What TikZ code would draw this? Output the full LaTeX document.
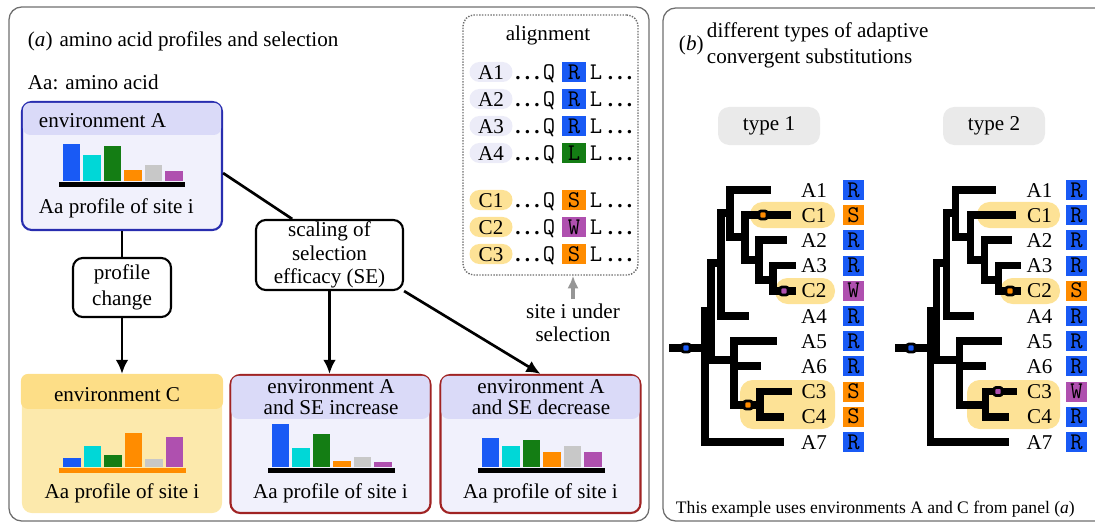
\documentclass[tikz,border=0pt]{standalone}
\usepackage{fontspec}
\setmainfont{Liberation Serif}
\usetikzlibrary{arrows.meta,calc}

\definecolor{barBlue}{RGB}{25,90,245}
\definecolor{barCyan}{RGB}{0,215,215}
\definecolor{barGreen}{RGB}{20,125,20}
\definecolor{barOrange}{RGB}{255,140,0}
\definecolor{barGray}{RGB}{200,200,200}
\definecolor{barPurple}{RGB}{175,80,175}
\definecolor{envAedge}{RGB}{40,45,175}
\definecolor{envAbody}{RGB}{241,241,252}
\definecolor{envAhead}{RGB}{218,218,248}
\definecolor{envCbody}{RGB}{252,233,172}
\definecolor{envChead}{RGB}{253,222,135}
\definecolor{hiYellow}{RGB}{253,226,150}
\definecolor{seEdge}{RGB}{160,35,35}
\definecolor{pillA}{RGB}{236,236,248}
\definecolor{pillGray}{RGB}{234,234,234}
\definecolor{frameGray}{RGB}{110,110,110}
\definecolor{arrowGray}{RGB}{150,150,150}
\colorlet{colR}{barBlue}
\colorlet{colS}{barOrange}
\colorlet{colW}{barPurple}
\colorlet{colL}{barGreen}

\newcommand{\alnDots}{\textbf{.\hspace{3pt}.\hspace{3pt}.}}
\newcommand{\monoAa}{\ttfamily\fontsize{17}{17}\selectfont}

% branches of the tree, same for both types
\newcommand{\cladeTree}{%
  \draw[br] (767,190) -| (730,237) -- (745,237);
  \draw[br] (787,215) -| (745,260) -- (759,260);
  \draw[br] (783,240) -| (759,280) -- (773,280);
  \draw[br] (792,265.5) -| (773,291) -- (792,291);
  \draw[br] (730,213) -| (721,316) -- (745,316);
  \draw[br] (721,263) -| (711,360) -- (734,360);
  \draw[br] (773,341) -| (734,405) -- (760,405);
  \draw[br] (734,366) -- (757,366);
  \draw[br] (788,391.5) -| (760,417) -- (780,417);
  \draw[br] (711,311) -| (705,442) -- (780,442);
  \draw[br] (673,348) -- (705,348);
}

\begin{document}
\begin{tikzpicture}[x=0.025cm,y=-0.025cm,font=\fontsize{15}{16.5}\selectfont]
    \tikzset{
      panel/.style={draw=frameGray,line width=0.9pt,rounded corners=9},
      envbox/.style={rounded corners=7,line width=1.5pt,minimum width=5cm,inner sep=0pt},
      stepbox/.style={draw,rounded corners=7,line width=1.5pt,align=center,inner sep=0pt},
      conn/.style={line width=1.9pt},
      tip/.style={-{Latex[length=10pt,width=9pt]}},
      row/.style={inner sep=0pt,text height=10pt,text depth=0pt},
      apill/.style={row,rounded corners=7,minimum width=1.075cm,minimum height=0.5cm},
      resbox/.style={row,minimum width=0.6cm,minimum height=0.5cm,font=\monoAa},
      typepill/.style={fill=pillGray,rounded corners=8,minimum width=2.55cm,minimum height=0.95cm},
      br/.style={line width=5pt,line cap=rect,line join=miter},
      mut/.style={draw=black,line width=2pt,rounded corners=1.5pt,minimum size=0.2cm,inner sep=0pt}
    }
    \useasboundingbox (0,0) rectangle (1095,524);
    \clip (0,0) rectangle (1095,524);

    % panels
    \draw[panel] (9,7) rectangle (649,521);
    \draw[panel] (663,8) rectangle (1120,521);

    % (a)
    \node[anchor=west] (ttlA) at (23,41) {(\textit{a})\hspace{5pt}amino acid profiles and selection};
    \node[anchor=west] (aaNote) at (23,82) {Aa: amino acid};

    \node[envbox,draw=envAedge,fill=envAbody,minimum height=3.2cm] (envA) at (122,166) {};
    \fill[envAhead,rounded corners=5] ($(envA.north west)+(2,2)$) rectangle ($(envA.north east)+(-2,34)$);
    \node[anchor=west] (envAhd) at (34,121) {environment A};
    \fill[black] (59,182) rectangle (185,187);
    \foreach \cl/\hh [count=\k from 0] in {barBlue/37,barCyan/26,barGreen/35,barOrange/11,barGray/16,barPurple/10}
      \fill[\cl] ({62.5+20.5*\k},181) rectangle ++(17.5,-\hh);
    \node[anchor=west] (envAtx) at (34,208) {Aa profile of site i};

    \node[stepbox,minimum width=2.45cm,minimum height=1.475cm] (chg) at (122,287.5) {profile\\[2pt]change};
    \node[stepbox,minimum width=3.675cm,minimum height=1.75cm] (scl) at (329.5,255) {scaling of\\selection\\efficacy (SE)};

    \node[envbox,fill=envCbody,minimum height=3.45cm] (envC) at (122,444) {};
    \fill[envChead,rounded corners=5] ($(envC.north west)+(0,0)$) rectangle ($(envC.north east)+(0,35)$);
    \node (envChd) at (117,395) {environment C};
    \fill[barOrange] (59,468) rectangle (186,473);
    \foreach \cl/\hh [count=\k from 0] in {barBlue/9,barCyan/21,barGreen/12,barOrange/34,barGray/8,barPurple/30}
      \fill[\cl] ({63+20.5*\k},467) rectangle ++(17.5,-\hh);
    \node (envCtx) at (122,493) {Aa profile of site i};

    \node[envbox,draw=seEdge,fill=envAbody,minimum height=3.45cm] (envAup) at (330.5,444) {};
    \fill[envAhead,rounded corners=5] ($(envAup.north west)+(2,2)$) rectangle ($(envAup.north east)+(-2,45)$);
    \node[align=center,font=\fontsize{15}{14.5}\selectfont] (envAuphd) at (331,397) {environment A\\and SE increase};
    \fill[black] (268,468) rectangle (395,473);
    \foreach \cl/\hh [count=\k from 0] in {barBlue/43,barCyan/19,barGreen/33,barOrange/6,barGray/10,barPurple/5}
      \fill[\cl] ({271.5+20.5*\k},467) rectangle ++(17.5,-\hh);
    \node (envAuptx) at (330.5,493) {Aa profile of site i};

    \node[envbox,draw=seEdge,fill=envAbody,minimum height=3.45cm] (envAdown) at (540.5,444) {};
    \fill[envAhead,rounded corners=5] ($(envAdown.north west)+(2,2)$) rectangle ($(envAdown.north east)+(-2,45)$);
    \node[align=center,font=\fontsize{15}{14.5}\selectfont] (envAdownhd) at (541,397) {environment A\\and SE decrease};
    \fill[black] (478,468) rectangle (605,473);
    \foreach \cl/\hh [count=\k from 0] in {barBlue/29,barCyan/21,barGreen/27,barOrange/15,barGray/21,barPurple/15}
      \fill[\cl] ({481.5+20.5*\k},467) rectangle ++(17.5,-\hh);
    \node (envAdowntx) at (540.5,493) {Aa profile of site i};

    \draw[conn] (envA) -- (chg);
    \draw[conn,tip] (chg) -- (envC);
    \draw[conn] (envA.-4) -- (scl.136);
    \draw[conn,tip] (scl.south) -- (scl.south |- envAup.north);
    \draw[conn,tip] (scl.south east) -- (envAdown.north);

    % alignment
    \node[draw=frameGray,densely dotted,line width=1pt,rounded corners=8,minimum width=4.375cm,minimum height=6.5cm] (aln) at (550.5,145) {};
    \node (alnTitle) at (548,35) {alignment};
    \foreach \nm/\aa/\yy/\pl in {A1/R/72/pillA,A2/R/99/pillA,A3/R/126/pillA,A4/L/153/pillA,C1/S/200/hiYellow,C2/W/227/hiYellow,C3/S/254/hiYellow}{
      \node[apill,fill=\pl] (al\nm) at (491,\yy) {\nm};
      \node[row] (dl\nm) at (527.5,\yy) {\alnDots};
      \node[row,font=\monoAa] (ql\nm) at (549,\yy) {Q};
      \node[resbox,fill=col\aa] (rl\nm) at (574,\yy) {\aa};
      \node[row,font=\monoAa] (ll\nm) at (596,\yy) {L};
      \node[row] (el\nm) at (620,\yy) {\alnDots};
    }
    \node[align=center] (site) at (573,323) {site i under\\selection};
    \draw[line width=2.2pt,draw=arrowGray,-{Latex[length=9pt,width=8pt]}] (site.north) -- (site.north |- aln.south);

    % (b)
    \node[anchor=west] (ttlBtag) at (674,45) {(\textit{b})};
    \node[anchor=west,align=left,font=\fontsize{15}{18.5}\selectfont] (ttlB) at (702,45) {different types of adaptive\\convergent substitutions};
    \node[typepill] (ty1) at (769,126) {type 1};
    \node[typepill] (ty2) at (994,126) {type 2};

    % type 1
    \fill[hiYellow,rounded corners=9] (750,202) rectangle (835,228);
    \fill[hiYellow,rounded corners=9] (775,278) rectangle (835,304);
    \fill[hiYellow,rounded corners=9] (740,380) rectangle (835,429);
    \cladeTree
    \node[mut,fill=colR] (m1root) at (686,348) {};
    \node[mut,fill=colS] (m1C1) at (763,215) {};
    \node[mut,fill=colW] (m1C2) at (784,291) {};
    \node[mut,fill=colS] (m1C34) at (748,405) {};
    \foreach \nm/\aa [count=\i from 0] in {A1/R,C1/S,A2/R,A3/R,C2/W,A4/R,A5/R,A6/R,C3/S,C4/S,A7/R}{
      \node[row] (ta\nm) at (814,{190+25.2*\i}) {\nm};
      \node[resbox,fill=col\aa,minimum width=0.525cm] (tr\nm) at (853.5,{190+25.2*\i}) {\aa};
    }

    % type 2
    \fill[hiYellow,rounded corners=9] (977,202) rectangle (1060,228);
    \fill[hiYellow,rounded corners=9] (1000,278) rectangle (1060,304);
    \fill[hiYellow,rounded corners=9] (967,380) rectangle (1060,429);
    \begin{scope}[shift={(225,0)}]
      \cladeTree
    \end{scope}
    \node[mut,fill=colR] (m2root) at (911,348) {};
    \node[mut,fill=colS] (m2C2) at (1010,291) {};
    \node[mut,fill=colW] (m2C3) at (998,391.5) {};
    \foreach \nm/\aa [count=\i from 0] in {A1/R,C1/R,A2/R,A3/R,C2/S,A4/R,A5/R,A6/R,C3/W,C4/R,A7/R}{
      \node[row] (ua\nm) at (1039.5,{190+25.2*\i}) {\nm};
      \node[resbox,fill=col\aa,minimum width=0.525cm] (ur\nm) at (1076.5,{190+25.2*\i}) {\aa};
    }

    \node[anchor=west,font=\fontsize{12.5}{14}\selectfont] (note) at (671,509) {This example uses environments A and C from panel (\textit{a})};
\end{tikzpicture}
\end{document}
